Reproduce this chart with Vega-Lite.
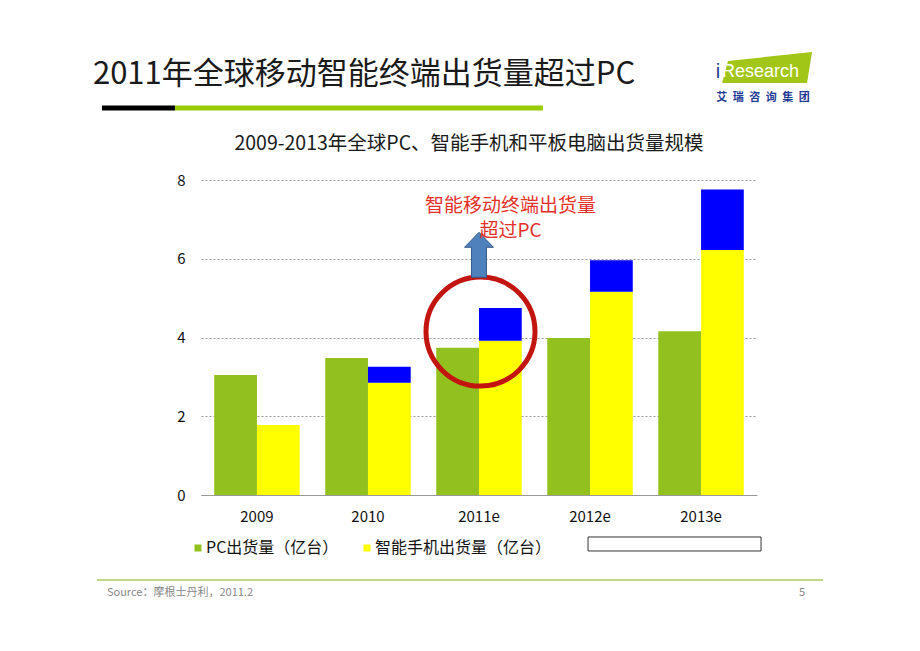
{
  "$schema": "https://vega.github.io/schema/vega-lite/v6.json",
  "width": 556,
  "height": 315,
  "autosize": {"type": "none"},
  "padding": {"left": 201, "top": 180, "right": 163, "bottom": 156},
  "background": "white",
  "config": {"font": "Noto Sans CJK SC", "view": {"stroke": null}},
  "datasets": {
    "bars": [
      {"year": "2009", "grp": "PC", "series": "PC出货量（亿台）", "value": 3.05},
      {"year": "2009", "grp": "移动", "series": "智能手机出货量（亿台）", "value": 1.78},
      {"year": "2010", "grp": "PC", "series": "PC出货量（亿台）", "value": 3.48},
      {"year": "2010", "grp": "移动", "series": "智能手机出货量（亿台）", "value": 2.85},
      {"year": "2010", "grp": "移动", "series": "平板电脑出货量（亿台）", "value": 0.41},
      {"year": "2011e", "grp": "PC", "series": "PC出货量（亿台）", "value": 3.74},
      {"year": "2011e", "grp": "移动", "series": "智能手机出货量（亿台）", "value": 3.92},
      {"year": "2011e", "grp": "移动", "series": "平板电脑出货量（亿台）", "value": 0.83},
      {"year": "2012e", "grp": "PC", "series": "PC出货量（亿台）", "value": 3.99},
      {"year": "2012e", "grp": "移动", "series": "智能手机出货量（亿台）", "value": 5.16},
      {"year": "2012e", "grp": "移动", "series": "平板电脑出货量（亿台）", "value": 0.8},
      {"year": "2013e", "grp": "PC", "series": "PC出货量（亿台）", "value": 4.16},
      {"year": "2013e", "grp": "移动", "series": "智能手机出货量（亿台）", "value": 6.22},
      {"year": "2013e", "grp": "移动", "series": "平板电脑出货量（亿台）", "value": 1.54}
    ]
  },
  "layer": [
    {
      "data": {"name": "bars"},
      "transform": [
        {"stack": "value", "groupby": ["year", "grp"], "sort": [{"field": "series", "order": "descending"}], "as": ["v0", "v1"]}
      ],
      "mark": {"type": "bar"},
      "encoding": {
        "x": {
          "field": "year", "type": "nominal",
          "scale": {"domain": ["2009", "2010", "2011e", "2012e", "2013e"], "paddingInner": 0.23, "paddingOuter": 0.119},
          "axis": {"title": null, "labelAngle": 0, "ticks": false, "domain": true, "domainColor": "#999999", "domainWidth": 1, "labelPadding": 14, "labelFontSize": 15, "labelColor": "#111111", "grid": false}
        },
        "xOffset": {"field": "grp", "type": "nominal", "scale": {"domain": ["PC", "移动"], "paddingInner": 0, "paddingOuter": 0}},
        "y": {
          "field": "v0", "type": "quantitative",
          "scale": {"domain": [0, 8], "nice": false},
          "axis": {"title": null, "values": [0, 2, 4, 6, 8], "grid": true, "gridDash": [2, 2], "gridColor": "#999999", "domain": false, "ticks": false, "labelPadding": 16, "labelFontSize": 15, "labelColor": "#111111"}
        },
        "y2": {"field": "v1"},
        "color": {
          "field": "series", "type": "nominal",
          "scale": {"domain": ["PC出货量（亿台）", "智能手机出货量（亿台）", "平板电脑出货量（亿台）"], "range": ["#92c01f", "#ffff00", "#0000ff"]},
          "legend": {"values": ["PC出货量（亿台）", "智能手机出货量（亿台）"], "orient": "none", "legendX": -11, "legendY": 360, "direction": "horizontal", "title": null, "symbolType": "square", "symbolSize": 49, "symbolStrokeWidth": 0, "labelFontSize": 16, "labelLimit": 400, "labelColor": "#111111", "labelOffset": 0, "columnPadding": 20, "padding": 0}
        }
      }
    },
    {
      "data": {"values": [{}]},
      "mark": {"type": "point", "shape": "circle", "filled": false, "stroke": "#c3150f", "strokeWidth": 5, "size": 11881, "opacity": 1, "xOffset": 1.5},
      "encoding": {"x": {"datum": "2011e", "type": "nominal"}, "y": {"datum": 4.15, "type": "quantitative"}}
    },
    {
      "data": {"values": [{}]},
      "mark": {"type": "point", "shape": "M0,-1L0.644,-0.333L0.333,-0.333L0.333,1L-0.333,1L-0.333,-0.333L-0.644,-0.333Z", "filled": true, "fill": "#4f81bd", "stroke": "#385d8a", "strokeWidth": 1, "size": 2025, "opacity": 1},
      "encoding": {"x": {"datum": "2011e", "type": "nominal"}, "y": {"datum": 6.1, "type": "quantitative"}}
    },
    {
      "data": {"values": [{}]},
      "mark": {"type": "text", "fontSize": 19, "lineHeight": 25, "fill": "#e5302a", "align": "center", "baseline": "middle", "dx": 31.5},
      "encoding": {"x": {"datum": "2011e", "type": "nominal"}, "y": {"datum": 7.352, "type": "quantitative"}, "text": {"value": ["智能移动终端出货量", "超过PC"]}}
    },
    {
      "data": {"values": [{}]},
      "mark": {"type": "text", "fontSize": 31, "fill": "#1a1a1a", "align": "left", "baseline": "middle", "dx": -164},
      "encoding": {"x": {"datum": "2009", "type": "nominal"}, "y": {"datum": 10.667, "type": "quantitative"}, "text": {"value": "2011年全球移动智能终端出货量超过PC"}}
    },
    {
      "data": {"values": [{}]},
      "mark": {"type": "point", "shape": "M-1,-0.0685L1,-0.0685L1,0.0685L-1,0.0685Z", "filled": true, "fill": "#000000", "strokeWidth": 0, "size": 5329, "opacity": 1, "xOffset": -118.5},
      "encoding": {"x": {"datum": "2009", "type": "nominal"}, "y": {"datum": 9.829, "type": "quantitative"}}
    },
    {
      "data": {"values": [{}]},
      "mark": {"type": "point", "shape": "M-1,-0.0136L1,-0.0136L1,0.0136L-1,0.0136Z", "filled": true, "fill": "#99cc00", "strokeWidth": 0, "size": 135424, "opacity": 1, "xOffset": 102},
      "encoding": {"x": {"datum": "2009", "type": "nominal"}, "y": {"datum": 9.829, "type": "quantitative"}}
    },
    {
      "data": {"values": [{}]},
      "mark": {"type": "text", "fontSize": 19.5, "fill": "#1a1a1a", "align": "center", "baseline": "middle", "dx": -10},
      "encoding": {"x": {"datum": "2011e", "type": "nominal"}, "y": {"datum": 8.914, "type": "quantitative"}, "text": {"value": "2009-2013年全球PC、智能手机和平板电脑出货量规模"}}
    },
    {
      "data": {"values": [{}]},
      "mark": {"type": "point", "shape": "M-1,-0.0809L1,-0.0809L1,0.0809L-1,0.0809Z", "filled": true, "fill": "#ffffff", "stroke": "#333333", "strokeWidth": 1, "size": 29929, "opacity": 1, "xOffset": -26.5},
      "encoding": {"x": {"datum": "2013e", "type": "nominal"}, "y": {"datum": -1.244, "type": "quantitative"}}
    },
    {
      "data": {"values": [{}]},
      "mark": {"type": "point", "shape": "M-1,-0.00207L1,-0.00207L1,0.00207L-1,0.00207Z", "filled": true, "fill": "#a9cf5a", "strokeWidth": 0, "size": 527076, "opacity": 1, "xOffset": -19},
      "encoding": {"x": {"datum": "2011e", "type": "nominal"}, "y": {"datum": -2.159, "type": "quantitative"}}
    },
    {
      "data": {"values": [{}]},
      "mark": {"type": "text", "fontSize": 11, "fill": "#888888", "align": "left", "baseline": "middle", "dx": -150},
      "encoding": {"x": {"datum": "2009", "type": "nominal"}, "y": {"datum": -2.489, "type": "quantitative"}, "text": {"value": "Source：摩根士丹利，2011.2"}}
    },
    {
      "data": {"values": [{}]},
      "mark": {"type": "text", "fontSize": 11, "fill": "#888888", "align": "center", "baseline": "middle", "dx": 101},
      "encoding": {"x": {"datum": "2013e", "type": "nominal"}, "y": {"datum": -2.489, "type": "quantitative"}, "text": {"value": "5"}}
    },
    {
      "data": {"values": [{}]},
      "mark": {"type": "point", "shape": "M-0.867,-0.178L1,-0.378L0.889,0.311L-1,0.311Z", "filled": true, "fill": "#a2c617", "strokeWidth": 0, "size": 8100, "opacity": 1, "xOffset": 66},
      "encoding": {"x": {"datum": "2013e", "type": "nominal"}, "y": {"datum": 10.819, "type": "quantitative"}}
    },
    {
      "data": {"values": [{}]},
      "mark": {"type": "text", "font": "Liberation Sans", "fontSize": 20, "fill": "#1f3a93", "align": "center", "baseline": "middle", "dx": 17},
      "encoding": {"x": {"datum": "2013e", "type": "nominal"}, "y": {"datum": 10.743, "type": "quantitative"}, "text": {"value": "i"}}
    },
    {
      "data": {"values": [{}]},
      "mark": {"type": "text", "font": "Liberation Sans", "fontSize": 18, "fill": "#ffffff", "align": "left", "baseline": "middle", "dx": 21},
      "encoding": {"x": {"datum": "2013e", "type": "nominal"}, "y": {"datum": 10.743, "type": "quantitative"}, "text": {"value": "Research"}}
    },
    {
      "data": {"values": [{}]},
      "mark": {"type": "text", "fontSize": 11, "fontWeight": "bold", "fill": "#1f3a93", "align": "center", "baseline": "middle", "dx": 62},
      "encoding": {"x": {"datum": "2013e", "type": "nominal"}, "y": {"datum": 10.083, "type": "quantitative"}, "text": {"value": "艾\u2002瑞\u2002咨\u2002询\u2002集\u2002团"}}
    }
  ]
}
